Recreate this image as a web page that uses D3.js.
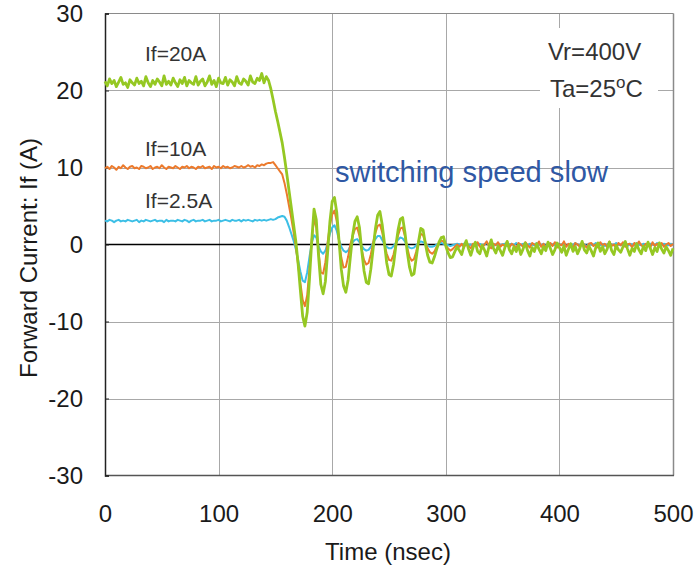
<!DOCTYPE html>
<html>
<head>
<meta charset="utf-8">
<script src="https://cdn.jsdelivr.net/npm/d3@7/dist/d3.min.js"></script>
<style>
  html, body { margin: 0; padding: 0; background: #fff; }
  svg { display: block; }
  text { font-family: "Liberation Sans", Arial, sans-serif; }
</style>
</head>
<body>
<svg id="chart" width="699" height="569"></svg>
<script>
// ---------- DATA ----------
const sampleStepNs = 2;            // samples every 2 ns, 0..500 ns
const xTicks = [0, 100, 200, 300, 400, 500];
const yTicks = [-30, -20, -10, 0, 10, 20, 30];
const seriesNames = ["If=2.5A", "If=10A", "If=20A"];

const if20A = [
  21.2, 20.6, 21.5, 20.9, 21.3, 20.5, 21.1, 21.7, 20.8, 21.0,
  20.4, 21.4, 21.0, 20.7, 21.6, 20.9, 21.2, 20.6, 21.8, 21.0,
  20.5, 21.3, 20.8, 21.5, 21.1, 20.6, 21.9, 20.8, 21.2, 20.7,
  21.6, 21.0, 20.5, 21.4, 20.9, 21.7, 20.6, 21.3, 21.0, 20.8,
  21.8, 20.7, 21.2, 21.5, 20.6, 21.1, 21.9, 20.8, 21.3, 20.5,
  21.6, 21.0, 20.9, 21.7, 20.7, 21.4, 21.1, 20.6, 21.8, 21.0,
  20.8, 21.5, 21.2, 20.7, 21.9, 21.1, 20.9, 21.6, 21.3, 22.2,
  21.0, 21.8, 21.3,
  20.2, 18.8, 17.3, 16.0, 14.6, 13.2, 11.3, 9.2, 7.0, 4.8,
  2.6, 0.4, -2.5, -6.0, -9.3, -10.6, -8.8, -4.5, 0.5, 4.6,
  3.2, -1.5, -5.2, -6.4, -4.8, -1.0, 3.0, 5.6, 6.1, 4.2,
  0.5, -3.2, -5.4, -6.2, -4.6, -1.6, 1.2, 3.0, 3.6, 2.2,
  -0.8, -3.4, -4.9, -5.1, -3.2, -0.6, 2.0, 3.8, 4.3, 2.6,
  0.2, -2.4, -3.9, -4.1, -2.6, -0.2, 1.9, 3.3, 3.5, 1.6,
  -0.9, -2.9, -4.0, -3.8, -1.7, 0.4, 2.1, 1.9, 0.1, -1.4,
  -2.3, -2.4, -1.6, -0.6, 0.3, 0.9, 1.0, -0.2, -1.1, -1.7,
  -1.6, -0.9, -0.3,
  -0.8, -1.3, -0.2, 0.5, -0.6, -1.4, -0.4, 0.3, -0.9, -1.2,
  -0.1, -0.7, -1.5, -0.3, 0.6, -0.5, -1.1, -0.2, -0.8, -1.4,
  -0.4, 0.4, -0.7, -1.2, -0.3, -0.9, -0.1, -1.3, -0.6, 0.2,
  -0.8, -1.5, -0.4, -0.9, 0.1, -0.6, -1.2, -0.3, -0.8, 0.3,
  -0.5, -1.3, -0.7, 0.2, -0.4, -1.0, -0.2, -1.4, -0.6, 0.1,
  -0.9, -0.3, -1.2, -0.5, 0.4, -0.7, -1.1, -0.2, -0.8, -1.5,
  -0.4, 0.2, -0.9, -0.3, -1.2, -0.6, 0.3, -0.8, -1.3, -0.1,
  -0.7, -1.0, -0.3, 0.4, -0.6, -1.4, -0.5, -0.9, 0.1, -0.7,
  -1.2, -0.2, -0.8, 0.3, -0.5, -1.3, -0.4, -0.9, 0.2, -0.6,
  -1.1, -0.3, -0.8, -1.4, -0.5
];

const if10A = [
  9.9, 10.1, 9.8, 10.2, 10.0, 9.7, 10.1, 9.9, 10.3, 10.0,
  9.8, 10.1, 10.2, 9.9, 10.0, 9.8, 10.2, 10.1, 9.9, 10.0,
  10.2, 9.8, 10.0, 10.1, 9.9, 10.3, 10.0, 9.8, 10.1, 10.0,
  9.9, 10.2, 10.0, 9.8, 10.1, 10.0, 10.2, 9.9, 10.1, 10.0,
  9.8, 10.1, 10.0, 10.2, 9.9, 10.0, 10.1, 9.8, 10.2, 10.0,
  10.1, 9.9, 10.2, 10.0, 10.1, 9.9, 10.0, 10.2, 10.1, 10.0,
  10.2, 10.0, 10.1, 10.3, 10.1, 10.2, 10.0, 10.3, 10.2, 10.4,
  10.3, 10.5, 10.6,
  10.6, 10.7, 10.3, 9.9, 9.5, 9.1, 8.0, 6.6, 5.0, 3.4,
  1.6, -0.3, -2.6, -5.0, -7.2, -8.0, -6.6, -3.2, 0.6, 3.4,
  2.2, -1.0, -3.6, -3.8, -2.3, 0.3, 2.5, 3.9, 4.4, 3.0,
  0.5, -1.7, -3.0, -2.9, -1.6, 0.0, 1.1, 2.0, 2.2, 1.1,
  -0.7, -2.0, -2.6, -2.4, -1.3, 0.2, 1.5, 2.4, 2.6, 1.6,
  0.0, -1.2, -2.0, -2.1, -1.3, 0.0, 1.2, 2.1, 2.2, 1.1,
  -0.4, -1.6, -2.1, -1.9, -0.9, 0.4, 1.4, 1.2, 0.3, -0.5,
  -1.0, -1.2, -0.9, -0.3, 0.2, 0.5, 0.4, -0.1, -0.5, -0.8,
  -0.6, -0.3, 0.0,
  -0.3, 0.1, -0.4, 0.2, -0.2, -0.5, 0.1, -0.1, 0.3, -0.3,
  -0.4, 0.0, 0.4, -0.2, -0.5, 0.1, -0.1, 0.3, -0.3, 0.0,
  -0.2, 0.4, -0.4, 0.1, -0.1, -0.5, 0.2, 0.0, -0.3, 0.3,
  -0.1, -0.4, 0.2, 0.0, -0.2, 0.4, -0.3, 0.1, -0.5, 0.0,
  0.2, -0.2, 0.3, -0.4, 0.0, -0.1, 0.4, -0.3, 0.1, -0.2,
  -0.5, 0.2, 0.0, -0.3, 0.3, -0.1, -0.4, 0.1, 0.2, -0.2,
  0.0, -0.4, 0.3, -0.1, 0.1, -0.3, 0.4, -0.2, 0.0, -0.5,
  0.2, -0.1, 0.3, -0.3, 0.0, 0.1, -0.4, 0.2, -0.2, 0.4,
  -0.1, -0.3, 0.1, 0.0, -0.4, 0.3, -0.2, 0.1, -0.1, 0.2,
  -0.3, 0.0, 0.2, -0.2, 0.1
];

const if2p5A = [
  3.1, 3.0, 3.2, 3.1, 2.9, 3.1, 3.2, 3.0, 3.1, 3.0,
  3.2, 3.1, 3.0, 3.1, 3.2, 2.9, 3.1, 3.0, 3.2, 3.1,
  3.0, 3.1, 3.2, 3.0, 3.1, 3.1, 2.9, 3.2, 3.0, 3.1,
  3.1, 3.0, 3.2, 3.1, 3.0, 3.2, 3.1, 2.9, 3.1, 3.2,
  3.0, 3.1, 3.1, 3.2, 3.0, 3.1, 3.2, 3.0, 3.1, 3.1,
  3.2, 3.0, 3.1, 3.2, 3.1, 3.0, 3.2, 3.1, 3.1, 3.2,
  3.0, 3.2, 3.1, 3.2, 3.1, 3.0, 3.2, 3.1, 3.2, 3.1,
  3.2, 3.1, 3.2, 3.3, 3.2, 3.3, 3.5, 3.6, 3.7, 3.6,
  3.1, 2.3, 1.4, 0.5, -0.6, -2.0, -3.5, -4.7, -4.9, -3.6,
  -1.6, 0.2, 1.2, 0.9, -0.2, -0.9, -1.2, -0.8, 0.2, 1.4,
  2.2, 2.5, 1.8, 0.6, -0.3, -0.8, -1.0, -0.8, -0.2, 0.3,
  0.6, 0.7, 0.3, -0.2, -0.6, -0.8, -0.7, -0.3, 0.2, 0.7,
  1.1, 1.1, 0.6, 0.0, -0.3, -0.5, -0.5, -0.2, 0.2, 0.6,
  0.9, 0.8, 0.4, -0.1, -0.4, -0.5, -0.4, -0.1, 0.2, 0.4,
  0.3, 0.1, -0.1, -0.3, -0.3, -0.2, 0.0, 0.1, 0.2, 0.1,
  0.0, -0.1, -0.2, -0.1, 0.0, 0.1,
  0.0, -0.1, 0.1, 0.2, -0.1, 0.0, -0.2, 0.1, 0.0, 0.1,
  -0.1, 0.0, 0.2, -0.1, 0.1, -0.2, 0.0, 0.1, -0.1, 0.0,
  0.1, -0.2, 0.0, 0.1, -0.1, 0.2, 0.0, -0.1, 0.1, 0.0,
  -0.2, 0.1, 0.0, -0.1, 0.2, 0.0, -0.1, 0.1, -0.2, 0.0,
  0.1, 0.0, -0.1, 0.2, -0.1, 0.0, 0.1, -0.2, 0.0, 0.1,
  -0.1, 0.2, 0.0, -0.1, 0.1, 0.0, -0.2, 0.1, 0.0, -0.1,
  0.2, 0.0, -0.1, 0.1, -0.2, 0.0, 0.1, 0.0, -0.1, 0.2,
  0.0, -0.1, 0.1, 0.0, -0.2, 0.1, 0.0, -0.1, 0.2, 0.0,
  -0.1, 0.1, 0.0, -0.2, 0.1, 0.0, -0.1, 0.2, 0.0, -0.1,
  0.1, 0.0, -0.1, 0.1, 0.0
];

// ---------- CHART ----------
const svg = d3.select("#chart");
const plotLeft = 105, plotRight = 673, plotTop = 13.5, plotBottom = 475.5;

const x = d3.scaleLinear().domain([0, 500]).range([plotLeft, plotRight]);
const y = d3.scaleLinear().domain([-30, 30]).range([plotBottom, plotTop]);

const gridColor = "#a8a8a8";
const plainNumber = d => String(d);   // hyphen-minus as in the reference

// horizontal grid
svg.append("g").selectAll("line")
  .data(yTicks.filter(d => d !== 0 && d !== -30 && d !== 30))
  .join("line")
  .attr("x1", plotLeft).attr("x2", plotRight)
  .attr("y1", d => Math.round(y(d)) + 0.5).attr("y2", d => Math.round(y(d)) + 0.5)
  .attr("stroke", gridColor).attr("stroke-width", 1);

// vertical grid
svg.append("g").selectAll("line")
  .data(xTicks.filter(d => d !== 0 && d !== 500))
  .join("line")
  .attr("x1", d => Math.round(x(d)) + 0.5).attr("x2", d => Math.round(x(d)) + 0.5)
  .attr("y1", plotTop).attr("y2", plotBottom)
  .attr("stroke", gridColor).attr("stroke-width", 1);

// frame: top & right grey, bottom dark
svg.append("line").attr("x1", plotLeft).attr("x2", plotRight + 0.5).attr("y1", plotTop).attr("y2", plotTop)
  .attr("stroke", "#8a8a8a").attr("stroke-width", 1.2);
svg.append("line").attr("x1", plotRight + 0.5).attr("x2", plotRight + 0.5).attr("y1", plotTop).attr("y2", plotBottom)
  .attr("stroke", "#8a8a8a").attr("stroke-width", 1.5);
svg.append("line").attr("x1", plotLeft).attr("x2", plotRight + 1).attr("y1", plotBottom).attr("y2", plotBottom)
  .attr("stroke", "#555").attr("stroke-width", 1.5);

// white box behind Vr / Ta annotation
svg.append("rect").attr("x", 540).attr("y", 28).attr("width", 118).attr("height", 80).attr("fill", "#fff");

// zero line
svg.append("line").attr("x1", plotLeft).attr("x2", plotRight).attr("y1", y(0)).attr("y2", y(0))
  .attr("stroke", "#000").attr("stroke-width", 1.6);

// y axis (left)
const yAxis = d3.axisLeft(y).tickValues(yTicks).tickSize(-4).tickPadding(22).tickFormat(plainNumber);
const gy = svg.append("g").attr("transform", `translate(${plotLeft},0)`).call(yAxis);
gy.select(".domain").attr("stroke", "#222").attr("stroke-width", 1.5);
gy.selectAll(".tick line").attr("stroke", "#222");
gy.selectAll(".tick text").attr("font-size", 24).attr("fill", "#1a1a1a")
  .attr("font-family", "Liberation Sans, Arial, sans-serif");

// x axis (bottom) - labels only
const xAxis = d3.axisBottom(x).tickValues(xTicks).tickSize(0).tickPadding(29).tickFormat(plainNumber);
const gx = svg.append("g").attr("transform", `translate(0,${plotBottom})`).call(xAxis);
gx.select(".domain").remove();
gx.selectAll(".tick text").attr("font-size", 24).attr("fill", "#1a1a1a")
  .attr("font-family", "Liberation Sans, Arial, sans-serif");

// series lines
const line = d3.line().x(d => x(d[0])).y(d => y(d[1]));
const series = [
  { name: seriesNames[0], values: if2p5A, color: "#3cbfe6", width: 2 },
  { name: seriesNames[1], values: if10A,  color: "#ec7a2c", width: 2 },
  { name: seriesNames[2], values: if20A,  color: "#95c823", width: 2.8 }
];
series.forEach(s => {
  const pts = s.values.map((v, i) => [i * sampleStepNs, v]).filter(p => p[0] <= 500);
  svg.append("path").datum(pts).attr("d", line)
    .attr("fill", "none").attr("stroke", s.color).attr("stroke-width", s.width)
    .attr("stroke-linejoin", "round");
});

// series labels
const labelFont = 21;
svg.append("text").attr("x", 145).attr("y", 61).attr("font-size", labelFont).attr("fill", "#333").text("If=20A");
svg.append("text").attr("x", 145).attr("y", 156).attr("font-size", labelFont).attr("fill", "#333").text("If=10A");
svg.append("text").attr("x", 145).attr("y", 208).attr("font-size", labelFont).attr("fill", "#333").text("If=2.5A");

// Vr / Ta annotation
svg.append("text").attr("x", 548).attr("y", 60).attr("font-size", 24).attr("fill", "#333").text("Vr=400V");
const ta = svg.append("text").attr("x", 550).attr("y", 97).attr("font-size", 24).attr("fill", "#333");
ta.append("tspan").text("Ta=25");
ta.append("tspan").attr("font-size", 17).attr("dy", -9).text("o");
ta.append("tspan").attr("dy", 9).text("C");

// comment
svg.append("text").attr("x", 335).attr("y", 182)
  .attr("font-family", "Lato, 'Open Sans', sans-serif").attr("font-size", 30)
  .attr("fill", "#2f58a4").attr("textLength", 273).attr("lengthAdjust", "spacingAndGlyphs")
  .text("switching speed slow");

// axis titles
svg.append("text").attr("x", 388).attr("y", 560).attr("text-anchor", "middle")
  .attr("font-size", 24).attr("fill", "#1a1a1a").text("Time (nsec)");
svg.append("text").attr("transform", "translate(37,258) rotate(-90)").attr("text-anchor", "middle")
  .attr("font-size", 24).attr("fill", "#1a1a1a").text("Forward Current: If (A)");
</script>
</body>
</html>
